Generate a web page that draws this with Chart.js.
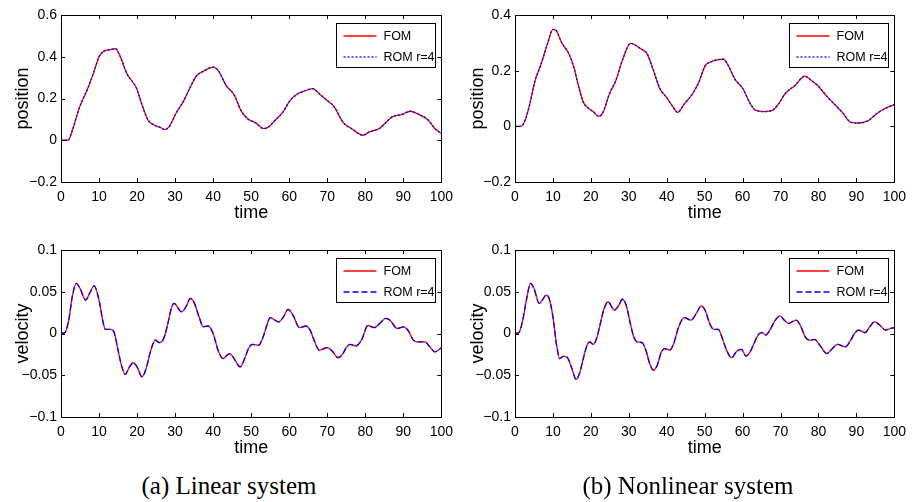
<!DOCTYPE html>
<html>
<head>
<meta charset="utf-8">
<script src="https://cdn.jsdelivr.net/npm/chart.js@4.4.1/dist/chart.umd.min.js"></script>
<style>
  body { margin: 0; background: #fff; }
  #wrap { position: relative; width: 913px; height: 502px; overflow: hidden; }
  canvas { position: absolute; }
  .cap { position: absolute; top: 472px; font-family: 'Liberation Serif', serif; font-size: 25px; color: #000; white-space: nowrap; transform: translateX(-50%); }
</style>
</head>
<body>
<div id="wrap">
  <canvas id="posLin" width="460" height="232" style="left:0;top:0"></canvas>
  <canvas id="posNon" width="458" height="232" style="left:455px;top:0"></canvas>
  <canvas id="velLin" width="460" height="232" style="left:0;top:235px"></canvas>
  <canvas id="velNon" width="458" height="232" style="left:455px;top:235px"></canvas>
  <div class="cap" style="left:229px">(a) Linear system</div>
  <div class="cap" style="left:688px">(b) Nonlinear system</div>
</div>
<script>
// values (ROM r=4 lies on top of FOM everywhere)
const tPosLin = [0, 1.9, 2.7, 4.9, 7, 8.7, 10, 11.3, 13, 14.3, 15.6, 17.3, 19.9, 21.2, 22.9, 24.6, 26.3, 27.3, 28.4, 30.2, 32.3, 34, 35.7, 37.4, 40, 41.3, 43.4, 45.6, 47.3, 49, 51.2, 53.3, 54.6, 56.3, 58.4, 60.2, 61.9, 64, 66.2, 67.9, 70, 71.7, 74.3, 76.4, 79.4, 81.1, 83.7, 87.1, 89.7, 91.8, 93.6, 96.6, 98.3, 100];
const posLin = [0, 0, 0.032, 0.16, 0.247, 0.33, 0.40, 0.427, 0.434, 0.439, 0.40, 0.32, 0.247, 0.175, 0.096, 0.072, 0.06, 0.051, 0.064, 0.128, 0.19, 0.255, 0.31, 0.33, 0.35, 0.335, 0.263, 0.215, 0.143, 0.104, 0.083, 0.056, 0.064, 0.096, 0.136, 0.19, 0.218, 0.236, 0.247, 0.223, 0.19, 0.163, 0.083, 0.056, 0.024, 0.04, 0.056, 0.112, 0.124, 0.139, 0.128, 0.096, 0.056, 0.032];

const tPosNon = [0, 1.5, 2.6, 3.9, 5.2, 6.9, 8.6, 10, 10.7, 12.4, 14.2, 15.5, 16.7, 18, 19.3, 20.6, 22.1, 23.2, 24.9, 26.6, 28.3, 30.5, 31.3, 33, 34.8, 36.5, 38.2, 39.9, 41.6, 42.9, 44.6, 46.8, 48.5, 50.2, 51.5, 53.6, 54.9, 56.2, 57.9, 60.1, 61.8, 63.5, 65.7, 67.8, 69.5, 71.2, 73.8, 76.4, 78.1, 79.8, 82, 84.1, 86.3, 88.6, 90.6, 93.1, 95.3, 97.4, 100];
const posNon = [0, 0, 0.02, 0.08, 0.16, 0.225, 0.298, 0.348, 0.346, 0.298, 0.261, 0.213, 0.147, 0.087, 0.066, 0.053, 0.036, 0.05, 0.117, 0.165, 0.237, 0.298, 0.295, 0.28, 0.261, 0.201, 0.135, 0.105, 0.071, 0.05, 0.08, 0.117, 0.16, 0.219, 0.231, 0.24, 0.241, 0.219, 0.171, 0.135, 0.087, 0.057, 0.053, 0.057, 0.081, 0.117, 0.147, 0.18, 0.165, 0.147, 0.111, 0.081, 0.05, 0.014, 0.012, 0.02, 0.045, 0.063, 0.078];

const tVelLin = [0, 1, 2, 3, 4, 5, 6.5, 7.5, 8.7, 10, 11, 11.7, 13, 13.9, 15, 16, 16.9, 18, 19, 20, 21.3, 22.5, 23.5, 24.8, 25.9, 27, 28, 29, 29.7, 31.7, 33, 34, 35, 36.3, 37.4, 38.7, 40, 41.3, 42.6, 44.3, 45.5, 47.1, 48.3, 49.4, 50.3, 52, 53, 54, 55, 57.2, 58.5, 59.7, 61, 62.7, 64.4, 65.5, 66.7, 67.9, 70, 71.5, 72.8, 74, 75, 76, 77.5, 79, 80.7, 82.4, 84, 85.4, 86.5, 88.4, 90.1, 91.5, 92.5, 93.6, 95.7, 97, 98.3, 100];
const velLin = [0, 0.001, 0.015, 0.045, 0.06, 0.054, 0.04, 0.048, 0.057, 0.04, 0.015, 0.005, 0.005, 0.002, -0.02, -0.04, -0.049, -0.04, -0.035, -0.04, -0.052, -0.04, -0.022, -0.008, -0.011, -0.006, 0.01, 0.03, 0.036, 0.026, 0.033, 0.042, 0.037, 0.02, 0.008, 0.009, 0, -0.02, -0.03, -0.024, -0.03, -0.04, -0.03, -0.017, -0.013, -0.014, -0.006, 0.008, 0.019, 0.014, 0.02, 0.029, 0.022, 0.007, 0.009, 0.004, -0.01, -0.02, -0.017, -0.022, -0.029, -0.025, -0.017, -0.013, -0.015, -0.008, 0.0096, 0.007, 0.013, 0.018, 0.016, 0.006, 0.008, 0.002, -0.007, -0.01, -0.01, -0.016, -0.022, -0.017];

const tVelNon = [0, 1, 2, 3, 4.1, 5, 6.4, 7.2, 8.2, 9, 10, 11, 11.8, 12.9, 14, 15, 16.1, 17, 18, 19, 19.7, 20.6, 21.5, 22.5, 23.5, 24.5, 26.2, 27.3, 28.3, 29.3, 30.5, 31.3, 32.2, 33.5, 34.5, 35.5, 36.5, 37.5, 38.6, 39.5, 40.8, 42, 43, 44.6, 46.4, 47.8, 49.1, 50.2, 51.3, 52.4, 53.6, 54.6, 55.6, 57.1, 58.5, 59.7, 60.9, 62, 63, 64.2, 65.2, 66.1, 67.3, 68.5, 69.8, 71, 72.1, 74.1, 75.2, 76.5, 77.7, 79, 80.2, 82.2, 83.5, 85, 87.1, 88.5, 89.5, 90.6, 92.3, 93.5, 94.8, 96.2, 97.7, 99, 100];
const velNon = [0, 0.001, 0.015, 0.04, 0.06, 0.054, 0.036, 0.04, 0.046, 0.042, 0.02, -0.015, -0.03, -0.027, -0.03, -0.042, -0.055, -0.048, -0.03, -0.014, -0.01, -0.013, -0.006, 0.012, 0.03, 0.038, 0.028, 0.033, 0.041, 0.034, 0.01, -0.004, -0.01, -0.011, -0.02, -0.036, -0.044, -0.038, -0.022, -0.018, -0.02, -0.01, 0.006, 0.019, 0.016, 0.024, 0.033, 0.027, 0.012, 0.005, 0.005, -0.005, -0.018, -0.029, -0.021, -0.019, -0.027, -0.022, -0.012, -0.001, 0.001, -0.002, 0.005, 0.015, 0.021, 0.016, 0.012, 0.016, 0.01, -0.004, -0.008, -0.007, -0.013, -0.024, -0.019, -0.013, -0.016, -0.008, 0, 0.004, 0.001, 0.008, 0.014, 0.01, 0.004, 0.006, 0.007];

const seriesNames = ['FOM', 'ROM r=4'];
const xTitle = 'time';

Chart.defaults.color = '#000';
const sans = "'Liberation Sans', Arial, sans-serif";
const tickFont = { family: sans, size: 14 };

// MATLAB style box, inward ticks on all four sides, boxed legend
const matlabAxes = {
  id: 'matlabAxes',
  afterDatasetsDraw(chart) {
    const { ctx, chartArea: a, scales: { x, y } } = chart;
    ctx.save();
    ctx.strokeStyle = '#000';
    ctx.lineWidth = 1;
    ctx.setLineDash([]);
    ctx.beginPath();
    x.ticks.forEach(t => {
      const px = Math.round(x.getPixelForValue(t.value)) + 0.5;
      ctx.moveTo(px, a.bottom); ctx.lineTo(px, a.bottom - 4);
      ctx.moveTo(px, a.top); ctx.lineTo(px, a.top + 4);
    });
    y.ticks.forEach(t => {
      const py = Math.round(y.getPixelForValue(t.value)) + 0.5;
      ctx.moveTo(a.left, py); ctx.lineTo(a.left + 4, py);
      ctx.moveTo(a.right, py); ctx.lineTo(a.right - 4, py);
    });
    ctx.stroke();
    ctx.strokeRect(Math.round(a.left) + 0.5, Math.round(a.top) + 0.5, Math.round(a.right - a.left), Math.round(a.bottom - a.top));

    // legend
    const bw = 99, bh = 44;
    const bx = Math.round(a.right - 6 - bw) + 0.5, by = Math.round(a.top + 8) + 0.5;
    ctx.fillStyle = '#fff';
    ctx.fillRect(bx, by, bw, bh);
    ctx.strokeRect(bx, by, bw, bh);
    ctx.font = '12.5px ' + sans;
    ctx.textBaseline = 'middle';
    ctx.textAlign = 'left';
    chart.data.datasets.forEach((ds, i) => {
      const ry = Math.round(by + 12 + i * 21);
      ctx.strokeStyle = ds.borderColor;
      ctx.lineWidth = 1.3;
      ctx.setLineDash(ds.borderDash || []);
      ctx.beginPath();
      ctx.moveTo(bx + 7, ry); ctx.lineTo(bx + 40, ry);
      ctx.stroke();
      ctx.fillStyle = '#000';
      ctx.fillText(ds.label, bx + 47, ry + 1);
    });
    ctx.restore();
  }
};

function pts(t, v) {
  return t.map((tv, i) => ({ x: tv, y: v[i] }));
}

function fmt(v) {
  const s = String(+v.toFixed(3));
  return s.replace('-', '\u2212');
}

function makeChart(id, t, vals, yMin, yMax, yStep, yTitle, romDash, yWidth) {
  const ctx = document.getElementById(id);
  return new Chart(ctx, {
    type: 'line',
    data: {
      datasets: [
        // order: ROM (order 0) is painted last, over FOM
        { label: seriesNames[0], data: pts(t, vals), order: 1, borderColor: '#ff0000', borderWidth: 1.3, pointRadius: 0, cubicInterpolationMode: 'monotone' },
        { label: seriesNames[1], data: pts(t, vals), order: 0, borderColor: '#0000ff', borderWidth: 1.3, borderDash: romDash, pointRadius: 0, cubicInterpolationMode: 'monotone' }
      ]
    },
    options: {
      responsive: false,
      animation: false,
      devicePixelRatio: 1,
      layout: { padding: { top: 15, right: 10, left: 0, bottom: 0 } },
      plugins: { legend: { display: false }, tooltip: { enabled: false } },
      scales: {
        x: {
          type: 'linear', min: 0, max: 100,
          grid: { display: false, drawTicks: false },
          border: { display: false },
          ticks: { stepSize: 10, autoSkip: false, maxRotation: 0, padding: 7, font: tickFont, color: '#000' },
          title: { display: true, text: xTitle, color: '#000', font: { family: sans, size: 18 }, padding: { top: 0, bottom: 8 } },
          afterFit(s) { s.height = 50; }
        },
        y: {
          min: yMin, max: yMax,
          grid: { display: false, drawTicks: false },
          border: { display: false },
          ticks: { stepSize: yStep, autoSkip: false, padding: 4, font: tickFont, color: '#000', callback: v => fmt(v) },
          title: { display: true, text: yTitle, color: '#000', font: { family: sans, size: 18 }, padding: { top: 12, bottom: 0 } },
          afterFit(s) { s.width = yWidth; }
        }
      }
    },
    plugins: [matlabAxes]
  });
}

makeChart('posLin', tPosLin, posLin, -0.2, 0.6, 0.2, 'position', [2, 2], 61);
makeChart('posNon', tPosNon, posNon, -0.2, 0.4, 0.2, 'position', [2, 2], 60);
makeChart('velLin', tVelLin, velLin, -0.1, 0.1, 0.05, 'velocity', [6, 3], 61);
makeChart('velNon', tVelNon, velNon, -0.1, 0.1, 0.05, 'velocity', [6, 3], 60);
</script>
</body>
</html>
